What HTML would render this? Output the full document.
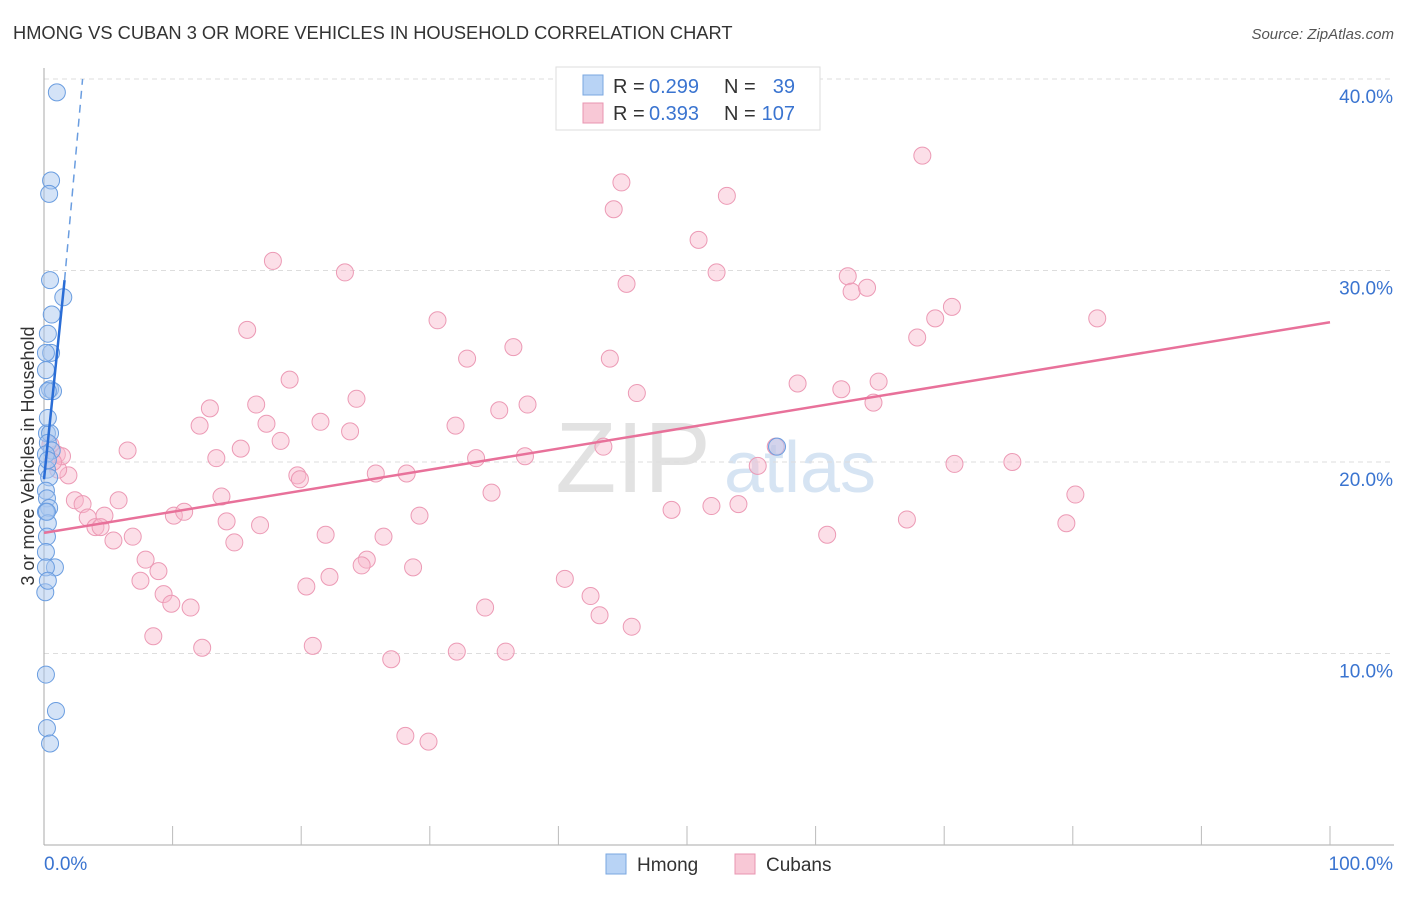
<!DOCTYPE html>
<html><head><meta charset="utf-8"><style>
body{margin:0;background:#fff;font-family:"Liberation Sans",sans-serif}
svg text{font-family:"Liberation Sans",sans-serif}
</style></head><body>
<svg id="chart" width="1406" height="892" xmlns="http://www.w3.org/2000/svg">
<text x="13" y="39" font-size="18.3" fill="#333">HMONG VS CUBAN 3 OR MORE VEHICLES IN HOUSEHOLD CORRELATION CHART</text>
<text x="1394" y="39" font-size="15" fill="#555" text-anchor="end" font-style="italic">Source: ZipAtlas.com</text>
<text x="633" y="492" font-size="100" fill="#e2e2e2" font-family="Liberation Serif" text-anchor="middle">ZIP</text>
<text x="800" y="492" font-size="72" fill="#d6e4f3" text-anchor="middle">atlas</text>
<g id="grid"></g><g id="axes"></g><g id="pink"></g><g id="blue"></g><g id="trends"></g>
<text transform="translate(34,456) rotate(-90)" font-size="18" fill="#333" text-anchor="middle">3 or more Vehicles in Household</text>
<g>
<rect x="556" y="67" width="264" height="63" fill="#fff" stroke="#ddd"/>
<rect x="583" y="75" width="20" height="20" fill="#b8d3f5" stroke="#7aa7e0"/>
<text x="613" y="93" font-size="20" fill="#333">R =</text>
<text x="649" y="93" font-size="20" fill="#3a74d0">0.299</text>
<text x="724" y="93" font-size="20" fill="#333">N =</text>
<text x="795" y="93" font-size="20" fill="#3a74d0" text-anchor="end">39</text>
<rect x="583" y="103" width="20" height="20" fill="#f8c8d6" stroke="#e895b0"/>
<text x="613" y="120" font-size="20" fill="#333">R =</text>
<text x="649" y="120" font-size="20" fill="#3a74d0">0.393</text>
<text x="724" y="120" font-size="20" fill="#333">N =</text>
<text x="795" y="120" font-size="20" fill="#3a74d0" text-anchor="end">107</text>
</g>
<g>
<rect x="606" y="854" width="20" height="20" fill="#b8d3f5" stroke="#7aa7e0"/>
<text x="637" y="871" font-size="19" fill="#333">Hmong</text>
<rect x="735" y="854" width="20" height="20" fill="#f8c8d6" stroke="#e895b0"/>
<text x="766" y="871" font-size="19" fill="#333">Cubans</text>
</g>
</svg>
<script>
const yTicks=[10,20,30,40];
const yTickLabels=["10.0%","20.0%","30.0%","40.0%"];
const xTickLabels=["0.0%","100.0%"];
const hmongX=[1.0,0.55,0.4,0.47,1.5,0.6,0.3,0.55,0.15,0.15,0.47,0.7,0.3,0.23,0.47,0.3,0.6,0.15,0.23,0.4,0.15,0.23,0.4,0.15,0.3,0.23,0.15,0.85,0.15,0.1,0.15,0.93,0.23,0.47,57.0,0.3,0.3,0.23,0.3];
const hmongY=[39.3,34.7,34.0,29.5,28.6,27.7,26.7,25.7,25.7,24.8,23.8,23.7,23.7,21.5,21.5,21.0,20.6,20.4,19.6,19.2,18.5,18.1,17.6,17.4,16.8,16.1,15.3,14.5,14.5,13.2,8.9,7.0,6.1,5.3,20.8,22.3,20.1,17.4,13.8];
const cubanX=[68.3,44.9,44.3,53.1,50.9,45.3,52.3,17.8,23.4,62.5,62.8,64.0,70.6,69.3,67.9,81.9,15.8,30.6,36.5,32.9,44.0,19.1,46.1,58.6,62.0,64.9,64.5,16.5,12.9,24.3,37.6,35.4,12.1,21.5,17.3,32.0,23.8,18.4,6.5,15.3,13.4,43.5,56.9,33.6,37.4,55.5,70.8,75.3,19.7,19.9,25.8,28.2,1.9,1.1,1.0,1.4,0.5,0.7,34.8,2.4,3.0,5.8,13.8,80.2,10.1,10.9,4.7,3.4,4.0,4.4,14.2,16.8,29.2,48.8,51.9,54.0,67.1,79.5,6.9,5.4,14.8,21.9,26.4,60.9,7.9,8.9,7.5,25.1,24.7,28.7,20.4,22.2,40.5,9.3,9.9,11.4,42.5,34.3,43.2,45.7,8.5,12.3,20.9,32.1,35.9,27.0,28.1,29.9];
const cubanY=[36.0,34.6,33.2,33.9,31.6,29.3,29.9,30.5,29.9,29.7,28.9,29.1,28.1,27.5,26.5,27.5,26.9,27.4,26.0,25.4,25.4,24.3,23.6,24.1,23.8,24.2,23.1,23.0,22.8,23.3,23.0,22.7,21.9,22.1,22.0,21.9,21.6,21.1,20.6,20.7,20.2,20.8,20.8,20.2,20.3,19.8,19.9,20.0,19.3,19.1,19.4,19.4,19.3,19.6,20.4,20.3,20.9,20.0,18.4,18.0,17.8,18.0,18.2,18.3,17.2,17.4,17.2,17.1,16.6,16.6,16.9,16.7,17.2,17.5,17.7,17.8,17.0,16.8,16.1,15.9,15.8,16.2,16.1,16.2,14.9,14.3,13.8,14.9,14.6,14.5,13.5,14.0,13.9,13.1,12.6,12.4,13.0,12.4,12.0,11.4,10.9,10.3,10.4,10.1,10.1,9.7,5.7,5.4];
const cubanTrend=[16.3,27.3];
const hmongTrendSolid=[0,19.1,1.6,29.5];
const hmongTrendDash=[1.6,29.5,3.0,40.0];

const NS="http://www.w3.org/2000/svg";
const X0=44,X1=1330,Y0=845,PXPCT=19.15;
const xs=v=>X0+(X1-X0)*v/100;
const ys=v=>Y0-v*PXPCT;
function mk(tag,attrs,parent){const e=document.createElementNS(NS,tag);for(const k in attrs)e.setAttribute(k,attrs[k]);document.getElementById(parent).appendChild(e);return e;}
yTicks.forEach((t,i)=>{
 const g=mk('line',{x1:X0,x2:1394,y1:ys(t),y2:ys(t),stroke:'#ddd','stroke-dasharray':'5,4'},'grid');
 
 
 const l=mk('text',{x:1393,y:ys(t)+24,'font-size':19,fill:'#3a74d0','text-anchor':'end'},'axes');
 l.textContent=yTickLabels[i];
 
 
});
const ax=mk('line',{x1:X0,x2:X0,y1:68,y2:Y0,stroke:'#aaa'},'axes');


const bx=mk('line',{x1:X0,x2:1394,y1:Y0,y2:Y0,stroke:'#aaa'},'axes');


for(let i=1;i<=10;i++){const t=mk('line',{x1:xs(i*10),x2:xs(i*10),y1:826,y2:Y0,stroke:'#bbb'},'axes');
 
 }
const xl0=mk('text',{x:44,y:870,'font-size':19,fill:'#3a74d0'},'axes');xl0.textContent=xTickLabels[0];


const xl1=mk('text',{x:1393,y:870,'font-size':19,fill:'#3a74d0','text-anchor':'end'},'axes');xl1.textContent=xTickLabels[1];


cubanX.forEach((v,i)=>{const c=mk('circle',{cx:xs(v),cy:ys(cubanY[i]),r:8.5,fill:'rgba(248,185,205,0.45)',stroke:'#ec9ab5','stroke-width':1},'pink');
 
 });
hmongX.forEach((v,i)=>{const c=mk('circle',{cx:xs(v),cy:ys(hmongY[i]),r:8.5,fill:'rgba(170,200,240,0.5)',stroke:'#6a9de0','stroke-width':1},'blue');
 
 });
const pt=mk('line',{x1:xs(0),y1:ys(cubanTrend[0]),x2:xs(100),y2:ys(cubanTrend[1]),stroke:'#e8719a','stroke-width':2.5},'trends');


const bt=mk('line',{x1:xs(hmongTrendSolid[0]),y1:ys(hmongTrendSolid[1]),x2:xs(hmongTrendSolid[2]),y2:ys(hmongTrendSolid[3]),stroke:'#2a6dd6','stroke-width':2.5},'trends');


const bd=mk('line',{x1:xs(hmongTrendDash[0]),y1:ys(hmongTrendDash[1]),x2:xs(hmongTrendDash[2]),y2:ys(hmongTrendDash[3]),stroke:'#6a9de0','stroke-width':1.5,'stroke-dasharray':'8,6'},'trends');


</script>
</body></html>
